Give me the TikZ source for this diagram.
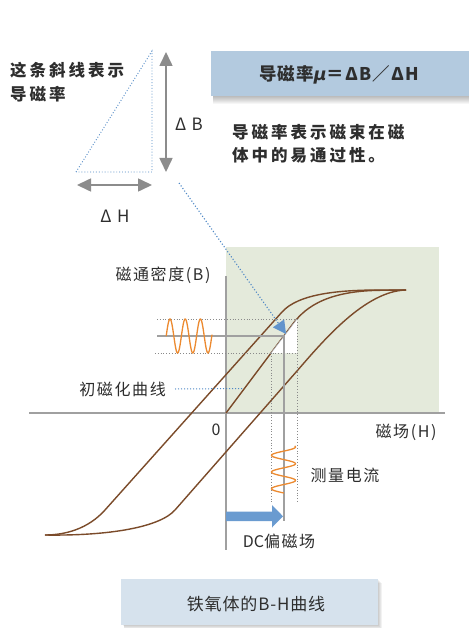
\documentclass[tikz,border=0pt]{standalone}
\usepackage{fontspec}
\setmainfont{Noto Sans CJK SC}
\newfontfamily\mufont{DejaVu Sans}
\usetikzlibrary{arrows.meta}
\definecolor{txt}{HTML}{2E2E2E}
\definecolor{brownc}{HTML}{7B4B2A}
\definecolor{greenbg}{HTML}{E4EADB}
\definecolor{boxblue}{HTML}{B3CADF}
\definecolor{boxlight}{HTML}{D6E2ED}
\definecolor{orangec}{HTML}{EC8A30}
\definecolor{axisgray}{HTML}{A0A0A0}
\definecolor{dotgray}{HTML}{8A8A8A}
\definecolor{ptrblue}{HTML}{4F88C6}
\definecolor{arrblue}{HTML}{6A9BD0}
\definecolor{arrgray}{HTML}{8C8C8C}
\tikzset{
  lbl/.style={font=\fontsize{16}{19}\selectfont\addfontfeatures{LetterSpace=10}, text=txt, inner sep=0pt},
  lblz/.style={font=\fontsize{16}{19}\selectfont, text=txt, inner sep=0pt},
  dlbl/.style={font=\fontsize{17}{19}\selectfont\addfontfeatures{LetterSpace=10}, text=txt, inner sep=0pt},
  blbl/.style={font=\fontsize{16.5}{23.5}\selectfont\bfseries\addfontfeatures{LetterSpace=18}, text=txt, inner sep=0pt, align=left},
  hyst/.style={draw=brownc, line width=1.4pt},
  axisline/.style={draw=axisgray, line width=1.5pt},
  guide/.style={draw=dotgray, line width=0.8pt, dotted},
  wave/.style={draw=orangec, line width=1.3pt},
  dbl/.style={draw=arrgray, line width=1.6pt, {Triangle[length=14pt,width=13pt]}-{Triangle[length=14pt,width=13pt]}},
}
\begin{document}
\begin{tikzpicture}[x=1pt,y=-1pt]
\useasboundingbox (0,0) rectangle (469,628);
\fill[white] (0,0) rectangle (469,628);

% top-left triangle
\coordinate (tA) at (76,172);
\coordinate (tB) at (152,51);
\coordinate (tC) at (152,172);
\draw[ptrblue, line width=0.9pt, dotted] (tA) -- (tB) -- (tC) -- cycle;
\coordinate (vb1) at (166,52);
\coordinate (vb2) at (166,172);
\draw[dbl] (vb1) -- (vb2);
\coordinate (hb1) at (77,185);
\coordinate (hb2) at (152,185);
\draw[dbl] (hb1) -- (hb2);
\node[dlbl] (dB) at (189,124) {Δ B};
\node[dlbl] (dH) at (115,216) {Δ H};
\node[blbl, anchor=west] (slope) at (10,82) {这条斜线表示\\导磁率};

% top box with shadow
\foreach \i in {1,...,8} \fill[black, opacity=0.035] (213,51+\i) rectangle (469,96+\i);
\node[fill=boxblue, minimum width=258pt, minimum height=45pt, inner sep=0pt] (mubox) at (340,73.5) {};
\node[font=\fontsize{17.5}{20}\selectfont\bfseries\addfontfeatures{LetterSpace=6}, text=txt, inner sep=0pt] (mutext) at (339,75) {导磁率{\mufont\bfseries\itshape μ}＝ΔB／ΔH};
\node[blbl, anchor=west] (desc) at (232,144) {导磁率表示磁束在磁\\体中的易通过性。};

% green area
\fill[greenbg] (226,247) rectangle (439,413);

% axes
\coordinate (O) at (226,413);
\coordinate (yTop) at (226,276);
\coordinate (yBot) at (226,550);
\coordinate (xL) at (29,413);
\coordinate (xR) at (445,413);
\draw[axisline] (yTop) -- (yBot);
\draw[axisline] (xL) -- (xR);

% hysteresis curves
\coordinate (tip) at (406,290);
\coordinate (bot) at (45,535);
\draw[hyst] (tip) -- (380,290) .. controls (340,290) and (298.7,293.4) .. (282,312) -- (105,510) .. controls (88,529) and (65,535) .. (bot);
\draw[hyst] (bot) .. controls (110,536) and (160,527) .. (175,510) -- (297,371) .. controls (323,341) and (365,291) .. (tip);
\draw[hyst] (O) -- (292,325) .. controls (302.8,310.6) and (322,291) .. (380,290.3) -- (tip);

% minor loop window
\coordinate (opt) at (284,336);
\coordinate (mlo) at (271,353);
\coordinate (mhi) at (297,319);
\fill[white] (mlo) -- (mhi) -- (297,353) -- cycle;
\draw[axisgray, line width=0.6pt] (mlo) -- (mhi);
\coordinate (gh1) at (157,319);
\coordinate (gh2) at (155,353);
\coordinate (gv1) at (271,502);
\coordinate (gv2) at (297,502);
\draw[guide] (gh1) -- (mhi) -- (gv2);
\draw[guide] (gh2) -- (297,353);
\draw[guide] (mlo) -- (gv1);
\coordinate (opL) at (157,336);
\coordinate (opB) at (284,521);
\draw[axisline, line width=1.3pt] (opL) -- (opt) -- (opB);

% waves
\draw[wave] plot[domain=166.2:212, samples=140] (\x, {336 - 17*sin(23.684*(\x-166.2))});
\draw[wave] plot[domain=446:493, samples=140] ({283.5 + 12*cos(21.557*(\x-447))}, \x);

% pointer from triangle
\coordinate (p0) at (179,183);
\coordinate (p1) at (278.5,323.4);
\draw[ptrblue, line width=1.1pt, dotted] (p0) -- (p1);
\fill[ptrblue!90] (286,334) -- (272.8,327.4) -- (284.2,319.4) -- cycle;

% DC bias arrow
\fill[arrblue] (226,511.5) -- (272,511.5) -- (272,505) -- (283,516.3) -- (272,527.5) -- (272,521) -- (226,521) -- cycle;

% initial magnetization label
\node[lbl, anchor=east] (init) at (166,389) {初磁化曲线};
\coordinate (ic) at (243,388.5);
\draw[ptrblue, line width=1pt, dotted] (init.east) ++(9,0) -- (ic);

% labels
\node[lbl] (Bl) at (163,275) {磁通密度(B)};
\node[lblz] (zero) at (216,430) {0};
\node[lbl] (Hl) at (406,432) {磁场(H)};
\node[lbl] (cur) at (345,475) {测量电流};
\node[lblz] (dc) at (279,541) {DC{\addfontfeatures{LetterSpace=10}偏磁场}};

% bottom box
\foreach \i in {1,...,4} \fill[black, opacity=0.05] (123+\i*0.3,579+\i) rectangle (378+\i,625+\i);
\node[fill=boxlight, minimum width=257pt, minimum height=46pt, inner sep=0pt] (title) at (249.5,602) {};
\node[font=\fontsize{17}{19}\selectfont\addfontfeatures{LetterSpace=5}, text=txt, inner sep=0pt] (titletext) at (256,604) {铁氧体的B-H曲线};
\end{tikzpicture}
\end{document}
